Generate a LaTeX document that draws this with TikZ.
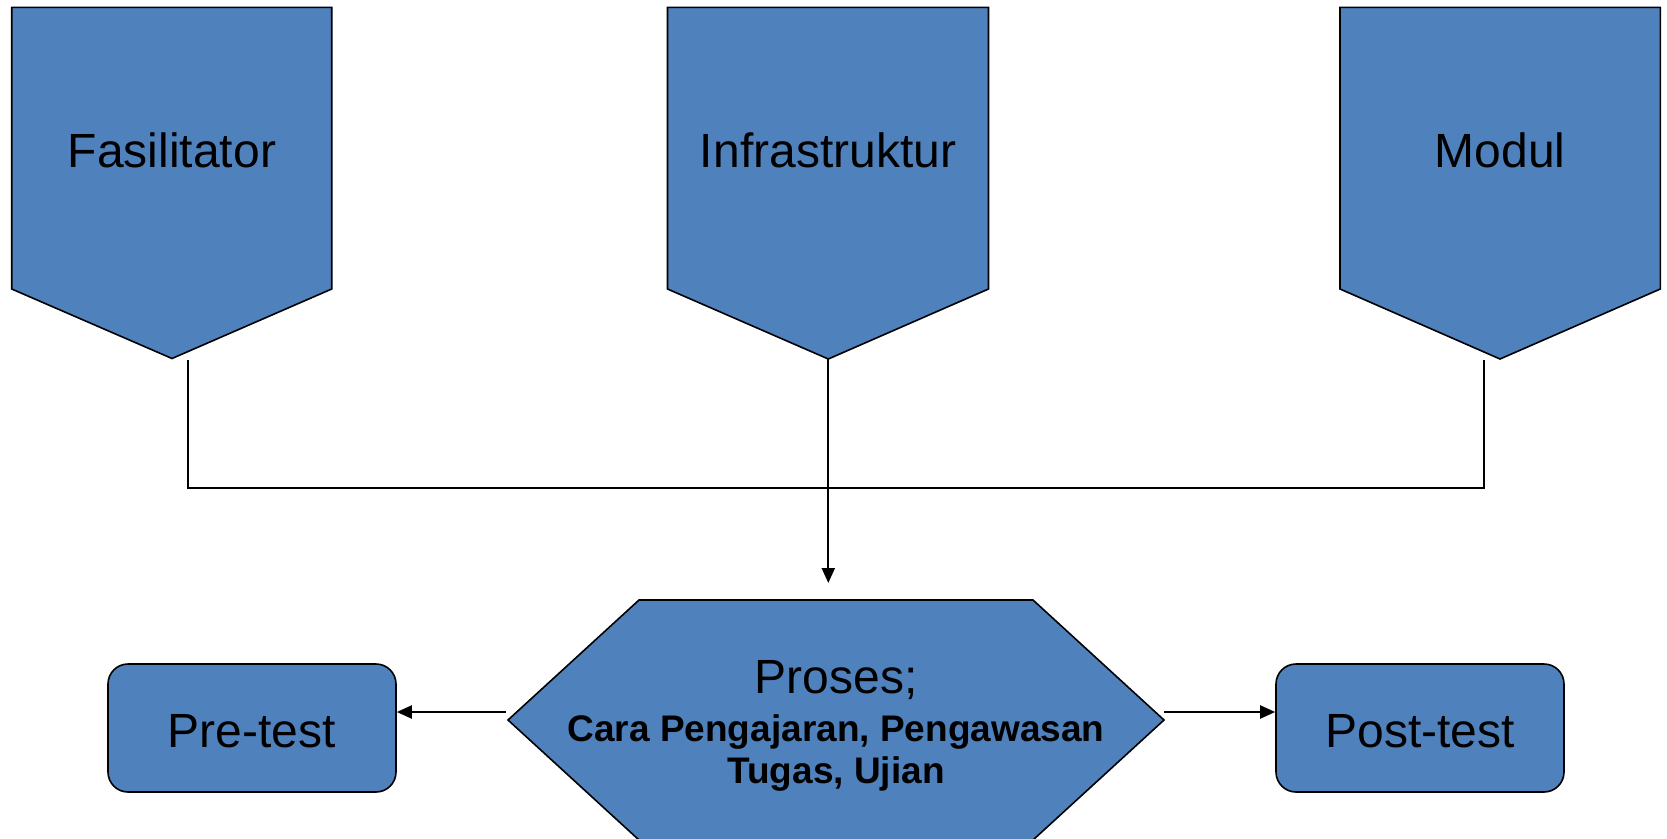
\documentclass[tikz,border=0pt]{standalone}
\usepackage{fontspec}
\setmainfont{Liberation Sans}
\usetikzlibrary{arrows.meta}
\definecolor{boxblue}{HTML}{4F81BD}
\tikzset{
  shapeline/.style={draw=black, line width=1.6pt, fill=boxblue, line join=miter},
  conn/.style={draw=black, line width=2.2pt},
  arr/.style={conn, -{Triangle[length=15pt,width=13pt]}},
  bigtext/.style={font=\fontsize{48}{52}\selectfont, inner sep=0pt},
  boldtext/.style={font=\fontsize{37}{42}\selectfont\bfseries, inner sep=0pt, anchor=base},
  testbox/.style={shapeline, rounded corners=20pt, minimum width=288pt, minimum height=128pt, inner sep=0pt}
}
\begin{document}
\begin{tikzpicture}[x=1pt,y=-1pt]
\useasboundingbox (0,0) rectangle (1667,838);
\clip (0,0) rectangle (1667,838);
% pentagons
\draw[shapeline] (11.7,7.3) -- (331.7,7.3) -- (331.7,289) -- (172,358.5) -- (11.7,289) -- cycle;
\coordinate (fastip) at (172,358.5);
\node[bigtext] (fas) at (172,150) {Fasilitator};
\draw[shapeline] (667.5,7.3) -- (988.5,7.3) -- (988.5,289) -- (828.3,359) -- (667.5,289) -- cycle;
\coordinate (inftip) at (828.3,359);
\node[bigtext] (inf) at (828,150) {Infrastruktur};
\draw[shapeline] (1340,7.3) -- (1660.3,7.3) -- (1660.3,289) -- (1500,359) -- (1340,289) -- cycle;
\coordinate (modtip) at (1500,359);
\node[bigtext] (mod) at (1500,150) {Modul};
% hexagon
\draw[shapeline] (508,720) -- (639,600) -- (1033,600) -- (1164,720) -- (1033,840) -- (639,840) -- cycle;
\coordinate (hexW) at (506,712);
\coordinate (hexE) at (1164,712);
\coordinate (hexN) at (828.3,583);
\node[bigtext, anchor=base] (proc1) at (836,693) {Proses;};
\node[boldtext] (proc2) at (836,741) {Cara Pengajaran, Pengawasan};
\node[boldtext] (proc3) at (836,783) {Tugas, Ujian};
% test boxes
\node[testbox] (pre) at (252,728) {};
\node[bigtext] (pretxt) at (252,731) {Pre-test};
\node[testbox] (post) at (1420,728) {};
\node[bigtext] (posttxt) at (1420,731) {Post-test};
% connectors
\coordinate (fl) at (187.7,360.7);
\coordinate (fr) at (1483.7,360.7);
\coordinate (bus) at (187.7,487.7);
\draw[conn, line cap=rect] (fl) -- (bus) -- (bus -| fr) -- (fr);
\draw[arr] (inftip) -- (hexN);
\draw[arr] (hexW) -- (hexW -| pre.east);
\draw[arr] (hexE) -- (hexE -| post.west);
\end{tikzpicture}
\end{document}
